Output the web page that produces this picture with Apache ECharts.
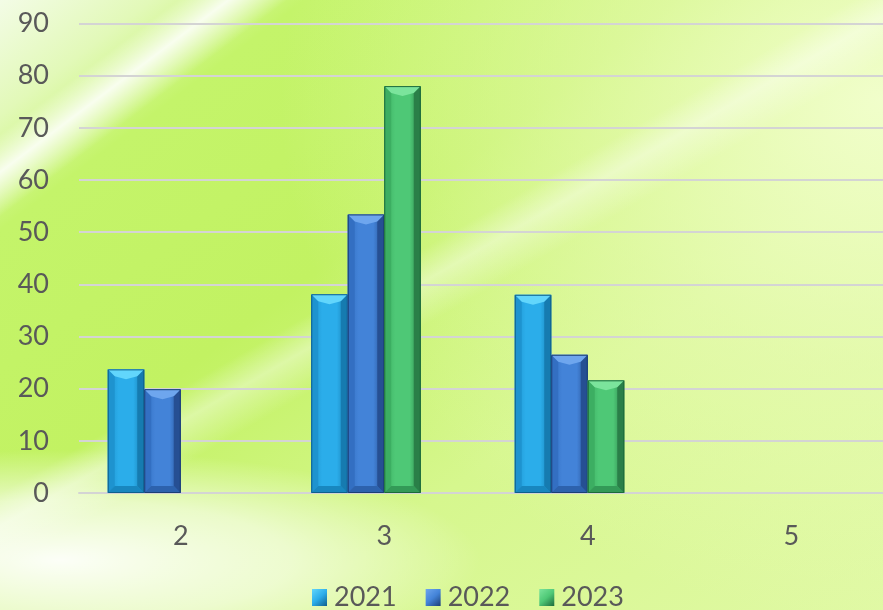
<!DOCTYPE html>
<html>
<head>
<meta charset="utf-8">
<script src="https://cdn.jsdelivr.net/npm/echarts@6/dist/echarts.min.js"></script>
<style>
html,body{margin:0;padding:0;width:883px;height:610px;overflow:hidden;}
body{
background:
 linear-gradient(143deg, rgba(255,255,255,0) 10.5%, rgba(255,255,255,0.85) 13.5%, rgba(255,255,255,0) 17%),
 linear-gradient(150deg, rgba(255,255,255,0) 44%, rgba(255,255,255,0.4) 47%, rgba(255,255,255,0) 51%),
 radial-gradient(ellipse 420px 110px at 60px 560px, rgba(255,255,255,0.95) 0%, rgba(255,255,255,0.6) 55%, rgba(255,255,255,0) 100%),
 radial-gradient(ellipse 600px 520px at 880px 100px, rgba(244,255,210,0.9) 0%, rgba(236,252,190,0.55) 50%, rgba(236,252,190,0) 100%),
 linear-gradient(143deg, #f3fce6 0%, #e2f9b8 9%, #c4f46a 18%, #c2f262 40%, #d6f78e 65%, #e0f9a4 100%);
}
#c{width:883px;height:610px;}
</style>
</head>
<body>
<div id="c"></div>
<script>
const categories = ['2','3','4','5'];
const seriesNames = ['2021','2022','2023'];
const v2021 = [23.7, 38.1, 38.0, null];
const v2022 = [19.9, 53.4, 26.5, null];
const v2023 = [null, 78.0, 21.6, null];
const yTicks = [0,10,20,30,40,50,60,70,80,90];

const palettes = [
  {edge:'#0f5f8c', body:'#2badea', light:'#62d6fc', left:'#1e93cf', right:'#167bb0', bottom:'#1887bf'},
  {edge:'#1b3f75', body:'#4383d8', light:'#6ea6ee', left:'#336fc2', right:'#264f93', bottom:'#2d62ad'},
  {edge:'#1c6a3a', body:'#4ec876', light:'#7be49c', left:'#3cae62', right:'#2a7f48', bottom:'#339a57'}
];
const vals=[v2021,v2022,v2023];
const NSLOT = 4, BW = 36.5;

function makeRender(si){
  const p = palettes[si];
  return function(params, api){
    const v = api.value(1);
    if (v == null || isNaN(v)) return;
    const ci = api.value(0);
    const top = api.coord([ci, v]);
    const base = api.coord([ci, 0]);
    const x0 = top[0] + (si - NSLOT/2) * BW;
    const x1 = x0 + BW;
    const y0 = top[1], y1 = base[1];
    const b = Math.min(7, (y1 - y0) / 2);
    const tb = Math.min(10, (y1 - y0) / 2);
    const xc = (x0 + x1) / 2;
    const bodyGrad = new echarts.graphic.LinearGradient(0,0,1,0,[
      {offset:0,color:p.left},{offset:0.3,color:p.body},{offset:0.7,color:p.body},{offset:1,color:p.right}]);
    return {type:'group', children:[
      {type:'rect', shape:{x:x0, y:y0, width:BW, height:y1-y0}, style:{fill:bodyGrad}},
      {type:'polygon', shape:{points:[[x0,y0],[x0+b,y0+b],[x0+b,y1-b],[x0,y1]]}, style:{fill:p.left}},
      {type:'polygon', shape:{points:[[x1,y0],[x1-b,y0+b],[x1-b,y1-b],[x1,y1]]}, style:{fill:p.right}},
      {type:'polygon', shape:{points:[[x0,y1],[x0+b,y1-b],[x1-b,y1-b],[x1,y1]]}, style:{fill:p.bottom}},
      {type:'polygon', shape:{points:[[x0,y0],[x1,y0],[x1-b,y0+b],[xc,y0+tb],[x0+b,y0+b]]}, style:{fill:p.light}},
      {type:'rect', shape:{x:x0+0.5, y:y0+0.5, width:BW-1, height:y1-y0-1}, style:{fill:'none', stroke:p.edge, lineWidth:1}}
    ]};
  };
}
const series = seriesNames.map((n,i)=>({
  name:n, type:'custom', renderItem:makeRender(i),
  data: vals[i].map((v,ci)=>[ci, v]),
  encode:{x:0, y:1},
  itemStyle:{color:new echarts.graphic.LinearGradient(0,0,1,1,[
    {offset:0,color:palettes[i].light},{offset:0.5,color:palettes[i].body},{offset:1,color:palettes[i].edge}])}
}));

const chart = echarts.init(document.getElementById('c'));
chart.setOption({
  backgroundColor:'transparent',
  animation:false,
  grid:{left:79, top:23.5, width:814, height:469.5, outerBoundsMode:'none', containLabel:false},
  legend:{
    data:seriesNames, bottom:-6, left:307, itemWidth:15, itemHeight:17, itemGap:29,
    icon:'rect',
    textStyle:{fontFamily:'Lato', fontSize:27, color:'#595959', padding:[0,0,0,2]}
  },
  xAxis:{
    type:'category', data:categories,
    axisLine:{show:true, lineStyle:{color:'#d4d4d4', width:2}},
    axisTick:{show:false},
    axisLabel:{fontFamily:'Lato', fontSize:27, color:'#595959', margin:30}
  },
  yAxis:{
    type:'value', min:0, max:90, interval:10,
    axisLine:{show:false}, axisTick:{show:false},
    splitLine:{lineStyle:{color:'#d4d4d4', width:2}},
    axisLabel:{fontFamily:'Lato', fontSize:27, color:'#595959', margin:30}
  },
  series:series
});
</script>
</body>
</html>
